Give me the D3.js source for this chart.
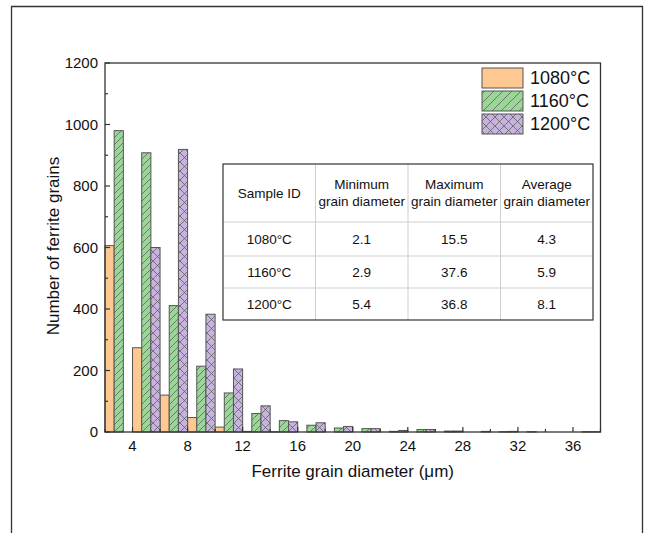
<!DOCTYPE html>
<html>
<head>
<meta charset="utf-8">
<script src="https://cdn.jsdelivr.net/npm/d3@7"></script>
<style>
  html, body { margin: 0; padding: 0; background: #fff; }
  svg { display: block; font-family: Arial, "Liberation Sans", sans-serif; }
</style>
</head>
<body>
<svg id="chart" width="648" height="533"></svg>
<script>
// Ferrite grain size distribution: bins of 2 µm starting at 2 µm
const binStarts = [2, 4, 6, 8, 10, 12, 14, 16, 18, 20, 22, 24, 26, 28, 30, 32, 34, 36];
const binWidth = 2;
const seriesNames = ["1080°C", "1160°C", "1200°C"];
const counts1080 = [606, 274, 120, 47, 16, 2, 1, 0, 0, 0, 0, 0, 0, 0, 0, 0, 0, 0];
const counts1160 = [980, 908, 411, 214, 127, 60, 37, 22, 13, 11, 2, 8, 3, 0, 1, 1, 0, 1];
const counts1200 = [0, 600, 919, 383, 205, 85, 33, 30, 18, 11, 5, 8, 3, 2, 2, 0, 0, 1];

const xMajorTicks = [4, 8, 12, 16, 20, 24, 28, 32, 36];
const xMinorTicks = [2, 6, 10, 14, 18, 22, 26, 30, 34, 38];
const yMajorTicks = [0, 200, 400, 600, 800, 1000, 1200];
const yMinorTicks = [100, 300, 500, 700, 900, 1100];

// Summary table
const tableHeader = [["Sample ID"], ["Minimum", "grain diameter"], ["Maximum", "grain diameter"], ["Average", "grain diameter"]];
const tableRows = [
  ["1080°C", "2.1", "15.5", "4.3"],
  ["1160°C", "2.9", "37.6", "5.9"],
  ["1200°C", "5.4", "36.8", "8.1"]
];

const allSeries = [counts1080, counts1160, counts1200];
const fills = ["#FEC893", "url(#hatchGreen)", "url(#crossPurple)"];
const swatchFills = ["#FEC893", "url(#hatchGreenL)", "url(#crossPurple)"];

const svg = d3.select("#chart");
const plotLeft = 105, plotRight = 600.5, plotTop = 63, plotBottom = 432;

const x = d3.scaleLinear().domain([2, 38]).range([plotLeft, plotRight]);
const y = d3.scaleLinear().domain([0, 1200]).range([plotBottom, plotTop]);

// Fill patterns
const defs = svg.append("defs");
function hatch(id, size, bg, path) {
  const p = defs.append("pattern").attr("id", id)
    .attr("patternUnits", "userSpaceOnUse").attr("width", size).attr("height", size);
  p.append("rect").attr("width", size).attr("height", size).attr("fill", bg);
  p.append("path").attr("d", path).attr("stroke", "#555").attr("stroke-width", 0.7).attr("fill", "none");
}
hatch("hatchGreen", 7, "#9BD597", "M-1,8 L8,-1 M-1,1 L1,-1 M6,8 L8,6");
hatch("hatchGreenL", 9, "#9BD597", "M-1,10 L10,-1 M-1,1 L1,-1 M8,10 L10,8");
hatch("crossPurple", 9, "#C6B4DC", "M0,0 L9,9 M9,0 L0,9");

// Outer frame
svg.append("path").attr("d", "M11.5,540 L11.5,6.5 L642.5,6.5 L642.5,540")
  .attr("fill", "none").attr("stroke", "#333").attr("stroke-width", 1.3);

// Bars
const third = binWidth / 3;
allSeries.forEach((vals, si) => {
  svg.append("g").selectAll("rect")
    .data(binStarts.map((b, i) => ({ b, v: vals[i] })).filter(d => d.v > 0))
    .join("rect")
    .attr("x", d => x(d.b + si * third))
    .attr("width", d => x(d.b + (si + 1) * third) - x(d.b + si * third))
    .attr("y", d => y(d.v))
    .attr("height", d => y(0) - y(d.v))
    .attr("fill", fills[si])
    .attr("stroke", "#555")
    .attr("stroke-width", 1);
});

// Plot box
svg.append("rect").attr("x", plotLeft).attr("y", plotTop)
  .attr("width", plotRight - plotLeft).attr("height", plotBottom - plotTop)
  .attr("fill", "none").attr("stroke", "#333").attr("stroke-width", 1.3);

// Axis ticks (inward)
const axisColor = "#333";
const gx = svg.append("g");
gx.selectAll(".xmaj").data(xMajorTicks).join("line")
  .attr("x1", d => x(d)).attr("x2", d => x(d)).attr("y1", plotBottom).attr("y2", plotBottom - 5)
  .attr("stroke", axisColor).attr("stroke-width", 1.2);
gx.selectAll(".xmin").data(xMinorTicks).join("line")
  .attr("x1", d => x(d)).attr("x2", d => x(d)).attr("y1", plotBottom).attr("y2", plotBottom - 3)
  .attr("stroke", axisColor).attr("stroke-width", 1.2);
gx.selectAll("text").data(xMajorTicks).join("text")
  .attr("x", d => x(d)).attr("y", 451).attr("text-anchor", "middle")
  .attr("font-size", 15).attr("fill", "#111").text(d => d);

const gy = svg.append("g");
gy.selectAll(".ymaj").data(yMajorTicks).join("line")
  .attr("x1", plotLeft).attr("x2", plotLeft + 5).attr("y1", d => y(d)).attr("y2", d => y(d))
  .attr("stroke", axisColor).attr("stroke-width", 1.2);
gy.selectAll(".ymin").data(yMinorTicks).join("line")
  .attr("x1", plotLeft).attr("x2", plotLeft + 3).attr("y1", d => y(d)).attr("y2", d => y(d))
  .attr("stroke", axisColor).attr("stroke-width", 1.2);
gy.selectAll("text").data(yMajorTicks).join("text")
  .attr("x", 98).attr("y", d => y(d)).attr("dy", "0.35em").attr("text-anchor", "end")
  .attr("font-size", 15).attr("fill", "#111").text(d => d);

// Axis titles
svg.append("text").attr("transform", "translate(59,246) rotate(-90)")
  .attr("text-anchor", "middle").attr("font-size", 17).attr("fill", "#111")
  .text("Number of ferrite grains");
svg.append("text").attr("x", (plotLeft + plotRight) / 2).attr("y", 477)
  .attr("text-anchor", "middle").attr("font-size", 17).attr("fill", "#111")
  .text("Ferrite grain diameter (μm)");

// Legend
const lg = svg.append("g");
seriesNames.forEach((name, i) => {
  const yy = 68 + i * 23;
  lg.append("rect").attr("x", 482).attr("y", yy).attr("width", 41).attr("height", 20)
    .attr("fill", swatchFills[i]).attr("stroke", "#555").attr("stroke-width", 1);
  lg.append("text").attr("x", 530).attr("y", yy + 10).attr("dy", "0.36em")
    .attr("font-size", 18).attr("fill", "#111").text(name);
});

// Table
const tX = [223, 315.5, 408, 500.5, 593];
const tY = [164, 222, 256, 288, 320];
const tg = svg.append("g");
tg.append("rect").attr("x", tX[0]).attr("y", tY[0])
  .attr("width", tX[4] - tX[0]).attr("height", tY[4] - tY[0]).attr("fill", "#fff");
tX.slice(1, 4).forEach(cx => tg.append("line").attr("x1", cx).attr("x2", cx)
  .attr("y1", tY[0]).attr("y2", tY[4]).attr("stroke", "#cfcfcf").attr("stroke-width", 1));
tY.slice(1, 4).forEach(cy => tg.append("line").attr("x1", tX[0]).attr("x2", tX[4])
  .attr("y1", cy).attr("y2", cy).attr("stroke", "#cfcfcf").attr("stroke-width", 1));
tg.append("rect").attr("x", tX[0]).attr("y", tY[0])
  .attr("width", tX[4] - tX[0]).attr("height", tY[4] - tY[0])
  .attr("fill", "none").attr("stroke", "#333").attr("stroke-width", 1.2);

tableHeader.forEach((lines, ci) => {
  const cx = (tX[ci] + tX[ci + 1]) / 2;
  const cy = (tY[0] + tY[1]) / 2;
  lines.forEach((ln, li) => {
    tg.append("text").attr("x", cx)
      .attr("y", cy + (li - (lines.length - 1) / 2) * 17).attr("dy", "0.36em")
      .attr("text-anchor", "middle").attr("font-size", 13.5).attr("fill", "#111").text(ln);
  });
});
tableRows.forEach((row, ri) => {
  const cy = (tY[ri + 1] + tY[ri + 2]) / 2;
  row.forEach((cell, ci) => {
    tg.append("text").attr("x", (tX[ci] + tX[ci + 1]) / 2).attr("y", cy).attr("dy", "0.36em")
      .attr("text-anchor", "middle").attr("font-size", 13.5).attr("fill", "#111").text(cell);
  });
});
</script>
</body>
</html>
